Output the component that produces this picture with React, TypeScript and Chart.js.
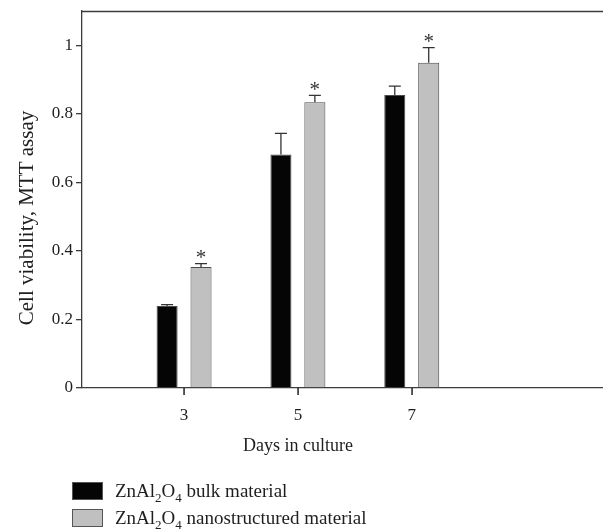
import React, { useEffect, useRef } from "react";
import { Chart, registerables } from "chart.js";

Chart.register(...registerables);

const days = [3, 5, 7];
const bulkValues = [0.239, 0.681, 0.855];
const bulkErrors = [0.004, 0.062, 0.026];
const nanoValues = [0.353, 0.834, 0.949];
const nanoErrors = [0.01, 0.02, 0.044];
const nanoSignificant = [true, true, true];
const yTicks = [0, 0.2, 0.4, 0.6, 0.8, 1];
const xTicks = [3, 5, 7];
const seriesLabels = ["ZnAl2O4 bulk material", "ZnAl2O4 nanostructured material"];
const xTitle = "Days in culture";
const yTitle = "Cell viability, MTT assay";

const SERIF = "'Liberation Serif', 'DejaVu Serif', serif";
const TEXT = "#1e1e1e";
const AXIS = "#3c3c3c";
const fills = ["#050505", "#c0c0c0"];

function drawFormula(ctx: CanvasRenderingContext2D, text: string, x: number, y: number, size: number) {
  // digits directly after letters are drawn as subscripts
  let cx = x;
  let prevLetter = false;
  let prevSub = false;
  for (const ch of text) {
    const isDigit = /[0-9]/.test(ch);
    const sub = isDigit && (prevLetter || prevSub);
    ctx.font = `${sub ? Math.round(size * 0.68) : size}px ${SERIF}`;
    ctx.fillText(ch, cx, sub ? y + size * 0.27 : y);
    cx += ctx.measureText(ch).width;
    prevLetter = /[A-Za-z]/.test(ch);
    prevSub = sub;
  }
}

const annotate = {
  id: "annotate",
  afterDraw(chart: any) {
    const ctx: CanvasRenderingContext2D = chart.ctx;
    const area = chart.chartArea;
    const yScale = chart.scales.y;
    const xScale = chart.scales.x;
    ctx.save();
    // top frame line
    ctx.strokeStyle = AXIS;
    ctx.lineWidth = 1.3;
    ctx.beginPath();
    ctx.moveTo(area.left, area.top + 0.5);
    ctx.lineTo(area.right, area.top + 0.5);
    ctx.stroke();

    // x tick marks
    ctx.fillStyle = "#222";
    for (const v of xTicks) {
      const px = Math.round(xScale.getPixelForValue(v));
      ctx.fillRect(px - 0.7, area.bottom, 1.5, 7);
    }

    const vals = [bulkValues, nanoValues];
    const errs = [bulkErrors, nanoErrors];
    chart.data.datasets.forEach((_ds: any, di: number) => {
      const meta = chart.getDatasetMeta(di);
      meta.data.forEach((el: any, i: number) => {
        const x = el.x;
        const y0 = el.y;
        const y1 = yScale.getPixelForValue(vals[di][i] + errs[di][i]);
        ctx.strokeStyle = "#333";
        ctx.lineWidth = 1.3;
        ctx.beginPath();
        ctx.moveTo(x, y0);
        ctx.lineTo(x, y1);
        ctx.moveTo(x - 6, y1);
        ctx.lineTo(x + 6, y1);
        ctx.stroke();
        if (di === 1 && nanoSignificant[i]) {
          ctx.fillStyle = "#333";
          ctx.font = `21px ${SERIF}`;
          ctx.textAlign = "center";
          ctx.textBaseline = "alphabetic";
          ctx.fillText("*", x, y1 + 0.5);
        }
      });
    });

    // axis titles
    ctx.fillStyle = TEXT;
    ctx.textAlign = "center";
    ctx.textBaseline = "alphabetic";
    ctx.font = `18px ${SERIF}`;
    ctx.fillText(xTitle, xScale.getPixelForValue(5), 451);

    ctx.save();
    ctx.translate(33, 218);
    ctx.rotate(-Math.PI / 2);
    ctx.font = `21px ${SERIF}`;
    ctx.fillText(yTitle, 0, 0);
    ctx.restore();

    // legend
    ctx.textAlign = "left";
    seriesLabels.forEach((label, i) => {
      const by = 482 + i * 27;
      ctx.fillStyle = fills[i];
      ctx.fillRect(72, by, 31, 18);
      ctx.strokeStyle = "#555";
      ctx.lineWidth = 1;
      ctx.strokeRect(72.5, by + 0.5, 30, 17);
      ctx.fillStyle = TEXT;
      drawFormula(ctx, label, 115, by + 15, 19);
    });
    ctx.restore();
  },
};

export default function App() {
  const ref = useRef<HTMLCanvasElement | null>(null);
  useEffect(() => {
    if (!ref.current) return;
    const chart = new Chart(ref.current, {
      type: "bar",
      data: {
        labels: days,
        datasets: [
          {
            label: seriesLabels[0],
            data: bulkValues,
            backgroundColor: fills[0],
            borderColor: "#4a4a4a",
            borderWidth: 1,
          },
          {
            label: seriesLabels[1],
            data: nanoValues,
            backgroundColor: fills[1],
            borderColor: "#4a4a4a",
            borderWidth: 1,
          },
        ],
      },
      options: {
        responsive: false,
        animation: false,
        categoryPercentage: 0.596,
        barPercentage: 0.62,
        layout: { padding: { top: 11, left: 0, right: 0, bottom: 0 } },
        plugins: { legend: { display: false }, tooltip: { enabled: false } },
        scales: {
          x: {
            type: "linear",
            offset: false,
            min: 1.207,
            max: 10.36,
            afterBuildTicks: (s: any) => {
              s.ticks = xTicks.map((v) => ({ value: v }));
            },
            afterFit: (s: any) => {
              s.height = 141;
              s.paddingLeft = 0;
              s.paddingRight = 0;
            },
            grid: { display: false },
            border: { display: true, color: AXIS, width: 1.3 },
            ticks: {
              color: TEXT,
              padding: 9,
              font: { family: SERIF, size: 17 },
              callback: (v: any) => String(v),
            },
          },
          y: {
            type: "linear",
            min: 0,
            max: 1.1,
            afterBuildTicks: (s: any) => {
              s.ticks = yTicks.map((v) => ({ value: v }));
            },
            afterFit: (s: any) => {
              s.width = 82;
              s.paddingTop = 0;
              s.paddingBottom = 0;
            },
            grid: { display: true, drawOnChartArea: false, drawTicks: true, tickLength: 6, color: AXIS, lineWidth: 1.3 },
            border: { display: true, color: AXIS, width: 1.3 },
            ticks: {
              color: TEXT,
              padding: 3,
              font: { family: SERIF, size: 17 },
              callback: (v: any) => String(Math.round(v * 10) / 10),
            },
          },
        },
      },
      plugins: [annotate],
    });
    return () => chart.destroy();
  }, []);
  return (
    <div style={{ position: "fixed", left: 0, top: 0, width: 603, height: 529, background: "#fff" }}>
      <canvas ref={ref} width={603} height={529} style={{ display: "block" }} />
    </div>
  );
}
